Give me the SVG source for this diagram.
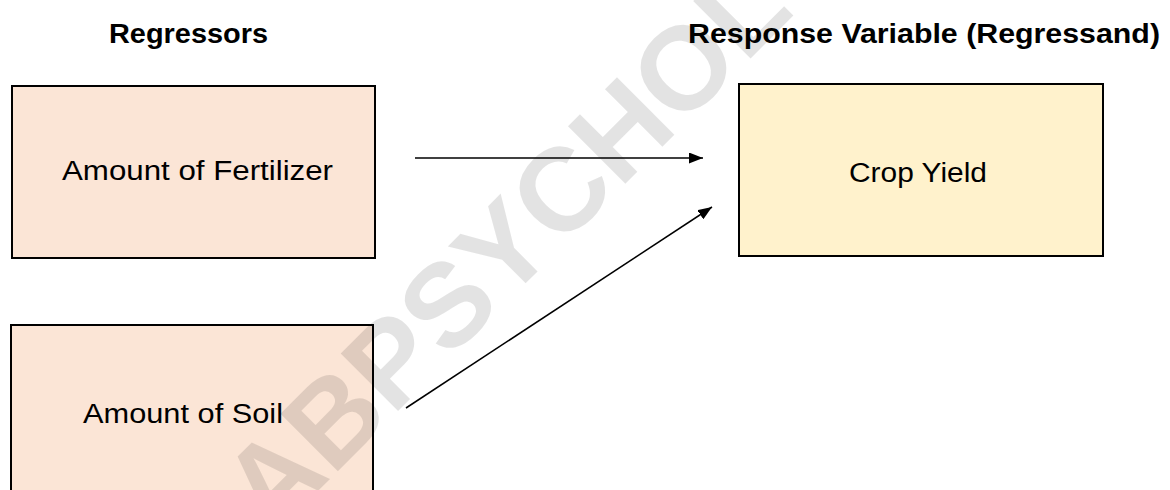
<svg xmlns="http://www.w3.org/2000/svg" width="1170" height="490" viewBox="0 0 1170 490">
  <style>
    .box { stroke: #000; stroke-width: 2; }
    .pink { fill: #FBE5D6; }
    .yellow { fill: #FFF2CC; }
    .lbl { font-family: "Liberation Sans", Arial, sans-serif; font-size: 27px; fill: #000; }
    .hdr { font-family: "Liberation Sans", Arial, sans-serif; font-size: 27px; font-weight: bold; fill: #000; }
    .conn { stroke: #000; stroke-width: 1.5; fill: none; }
    .wm { font-family: "Liberation Sans", Arial, sans-serif; font-size: 118px; font-weight: bold; fill: #000; fill-opacity: 0.11; }
  </style>
  <defs>
    <marker id="arrow" viewBox="0 0 10 10" refX="10" refY="5" markerWidth="14" markerHeight="11" markerUnits="userSpaceOnUse" orient="auto" preserveAspectRatio="none">
      <path d="M0,0 L10,5 L0,10 Z" fill="#000"/>
    </marker>
  </defs>
  <rect width="1170" height="490" fill="#fff"/>

  <g id="header-regressors">
    <text class="hdr" x="109" y="43" textLength="159" lengthAdjust="spacingAndGlyphs">Regressors</text>
  </g>
  <g id="header-response">
    <text class="hdr" x="688" y="43" textLength="472" lengthAdjust="spacingAndGlyphs">Response Variable (Regressand)</text>
  </g>

  <g id="node-fertilizer">
    <rect class="box pink" x="12" y="86" width="363" height="172"/>
    <text class="lbl" x="62" y="180" textLength="271" lengthAdjust="spacingAndGlyphs">Amount of Fertilizer</text>
  </g>
  <g id="node-soil">
    <rect class="box pink" x="11" y="325" width="362" height="200"/>
    <text class="lbl" x="83" y="423" textLength="200" lengthAdjust="spacingAndGlyphs">Amount of Soil</text>
  </g>
  <g id="node-crop">
    <rect class="box yellow" x="739" y="84" width="364" height="172"/>
    <text class="lbl" x="849" y="182" textLength="138" lengthAdjust="spacingAndGlyphs">Crop Yield</text>
  </g>

  <g id="connectors">
    <line class="conn" x1="415" y1="158" x2="703" y2="158" marker-end="url(#arrow)"/>
    <line class="conn" x1="406" y1="408" x2="712" y2="207" marker-end="url(#arrow)"/>
  </g>

  <g id="watermark">
    <text class="wm" transform="translate(272,537) rotate(-45)">ABPSYCHOL</text>
  </g>
</svg>
